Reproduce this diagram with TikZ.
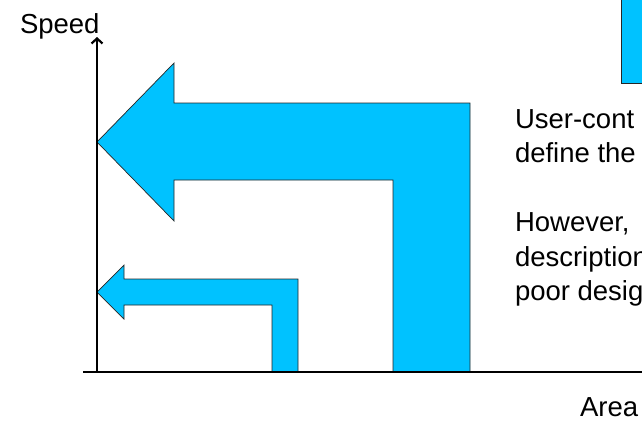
\documentclass[tikz,border=0pt]{standalone}
\usepackage{fontspec}
\setmainfont{Liberation Sans}
\usetikzlibrary{arrows.meta}
\definecolor{arrowblue}{RGB}{0,194,255}
\begin{document}
\begin{tikzpicture}[x=1pt,y=-1pt,
  blockarrow/.style={fill=arrowblue, draw=black!85, line width=0.7pt, line join=miter},
  axis/.style={line width=2.2pt, black},
  lbl/.style={inner sep=0pt, outer sep=0pt, anchor=base west, font=\fontsize{27.5}{34.5}\selectfont}]
\useasboundingbox (0,0) rectangle (642,424);
\clip (0,0) rectangle (642,424);
% partial box at top right
\draw[blockarrow] (621,-10) rectangle (660,83);
% big bent arrow
\draw[blockarrow] (97,142) -- (174,63) -- (174,103) -- (470,103) -- (470,372)
  -- (393,372) -- (393,180) -- (174,180) -- (174,221) -- cycle;
% small bent arrow
\draw[blockarrow] (97,292) -- (124,265) -- (124,279) -- (298,279) -- (298,372)
  -- (272,372) -- (272,305) -- (124,305) -- (124,319) -- cycle;
% axes
\coordinate (o) at (97,372);
\coordinate (ytop) at (97,37);
\coordinate (xl) at (83,372);
\coordinate (xr) at (660,372);
\draw[axis] (xl) -- (xr);
\draw[axis, line width=2pt, -{Straight Barb[length=5pt,width=11pt,line width=2.2pt]}] (o) -- (ytop);
% labels
\node[lbl] (speed) at (20,33) {Speed};
\node[lbl] (area) at (580,416) {Area};
\node[lbl] (t1) at (515,128) {User-cont};
\node[lbl] (t2) at (515,162.5) {define the};
\node[lbl] (t3) at (515,231.5) {However,};
\node[lbl] (t4) at (515,266) {description};
\node[lbl] (t5) at (515,300.5) {poor desig};
\end{tikzpicture}
\end{document}
